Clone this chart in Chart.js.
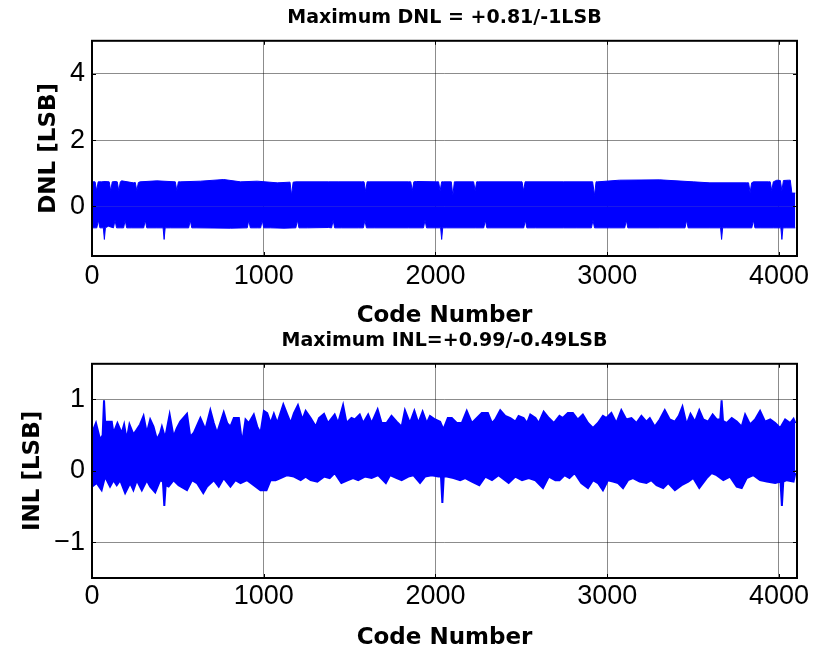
<!DOCTYPE html>
<html>
<head>
<meta charset="utf-8">
<script src="https://cdn.jsdelivr.net/npm/chart.js@4.4.0/dist/chart.umd.min.js"></script>
<style>
  html, body { margin: 0; padding: 0; background: #fff; }
  #wrap { position: relative; width: 825px; height: 649px; }
  canvas { position: absolute; left: 0; }
</style>
</head>
<body>
<div id="wrap">
  <canvas id="chart-dnl" width="825" height="325" style="top:0"></canvas>
  <canvas id="chart-inl" width="825" height="324" style="top:325px"></canvas>
</div>
<script>
// Axis ticks
const CODE_TICKS = [0, 1000, 2000, 3000, 4000];
const DNL_TICKS = [0, 2, 4];
const INL_TICKS = [-1, 0, 1];

// The traces are 4096 codes of dense noise; what reads off the picture is the
// blue band's top and bottom edge, so each series is an edge as [code, LSB].
const DNL_TOP = [
  [0, 0.74], [18, 0.74], [27, 0.47], [36, 0.74], [56, 0.74], [76, 0.75], [100, 0.74], [109, 0.47], [118, 0.74],
  [134, 0.75], [147, 0.74], [156, 0.47], [165, 0.74], [173, 0.77], [241, 0.71], [252, 0.72], [261, 0.47], [270, 0.72],
  [280, 0.74], [378, 0.77], [485, 0.74], [494, 0.47], [503, 0.74], [514, 0.74], [631, 0.76], [767, 0.81], [865, 0.74],
  [962, 0.76], [1079, 0.71], [1153, 0.73], [1162, 0.33], [1171, 0.73], [1186, 0.74], [1378, 0.74], [1433, 0.74],
  [1569, 0.74], [1584, 0.74], [1593, 0.45], [1602, 0.74], [1618, 0.74], [1842, 0.74], [1856, 0.74], [1865, 0.47],
  [1874, 0.74], [1890, 0.75], [2007, 0.74], [2018, 0.74], [2027, 0.47], [2036, 0.74], [2046, 0.74], [2085, 0.74],
  [2092, 0.74], [2101, 0.33], [2110, 0.74], [2118, 0.74], [2212, 0.74], [2222, 0.74], [2231, 0.47], [2240, 0.74],
  [2251, 0.74], [2494, 0.74], [2504, 0.74], [2513, 0.47], [2522, 0.74], [2533, 0.74], [2745, 0.74], [2915, 0.74],
  [2926, 0.33], [2935, 0.74], [2945, 0.74], [3072, 0.79], [3306, 0.80], [3501, 0.74], [3598, 0.71], [3812, 0.71],
  [3823, 0.71], [3832, 0.42], [3841, 0.71], [3851, 0.74], [3939, 0.74], [3949, 0.74], [3958, 0.47], [3967, 0.74],
  [3988, 0.79], [4008, 0.78], [4017, 0.47], [4026, 0.78], [4056, 0.79], [4066, 0.79], [4075, 0.40], [4095, 0.40],
];
const DNL_BOTTOM = [
  [0, -0.65], [28, -0.65], [37, -0.42], [46, -0.65], [66, -0.65], [72, -1.0], [78, -0.65], [95, -0.60],
  [125, -0.65], [134, -0.42], [143, -0.65], [164, -0.65], [184, -0.65], [193, -0.42], [202, -0.65], [232, -0.65],
  [301, -0.65], [310, -0.42], [319, -0.65], [378, -0.65], [414, -0.65], [420, -1.0], [426, -0.65], [456, -0.65],
  [563, -0.65], [572, -0.42], [581, -0.65], [611, -0.65], [806, -0.66], [904, -0.65], [913, -0.42], [922, -0.65],
  [962, -0.65], [982, -0.65], [991, -0.42], [1000, -0.65], [1040, -0.65], [1118, -0.66], [1187, -0.65], [1196, -0.42],
  [1205, -0.65], [1254, -0.65], [1378, -0.64], [1395, -0.65], [1404, -0.42], [1413, -0.65], [1452, -0.65],
  [1550, -0.65], [1580, -0.65], [1589, -0.42], [1598, -0.65], [1647, -0.65], [1842, -0.65], [1930, -0.65],
  [1939, -0.42], [1948, -0.65], [1998, -0.65], [2030, -0.65], [2036, -1.0], [2042, -0.65], [2066, -0.65],
  [2231, -0.65], [2281, -0.65], [2290, -0.42], [2299, -0.65], [2329, -0.65], [2514, -0.65], [2523, -0.42],
  [2532, -0.65], [2582, -0.65], [2745, -0.65], [2819, -0.65], [2908, -0.65], [2917, -0.42], [2926, -0.65],
  [3014, -0.65], [3102, -0.65], [3111, -0.42], [3120, -0.65], [3306, -0.65], [3453, -0.65], [3462, -0.42],
  [3471, -0.65], [3598, -0.65], [3660, -0.65], [3666, -1.0], [3672, -0.65], [3696, -0.65], [3842, -0.65],
  [3851, -0.42], [3860, -0.65], [3890, -0.65], [3968, -0.65], [4011, -0.65], [4017, -1.0], [4023, -0.65],
  [4046, -0.65], [4095, -0.65],
];

const INL_TOP = [
  [0, 0.53], [23, 0.67], [47, 0.44], [62, 0.50], [70, 0.99], [78, 0.60], [86, 0.69], [115, 0.69], [125, 0.53],
  [148, 0.67], [173, 0.53], [187, 0.65], [202, 0.44], [218, 0.65], [241, 0.51], [261, 0.58], [280, 0.65],
  [300, 0.77], [319, 0.53], [339, 0.72], [358, 0.62], [378, 0.44], [397, 0.53], [407, 0.62], [426, 0.46],
  [452, 0.79], [475, 0.48], [494, 0.60], [514, 0.69], [553, 0.80], [572, 0.48], [592, 0.53], [631, 0.74],
  [660, 0.58], [689, 0.85], [709, 0.67], [728, 0.53], [767, 0.82], [787, 0.67], [806, 0.62], [826, 0.74],
  [855, 0.74], [874, 0.39], [894, 0.72], [913, 0.67], [942, 0.79], [962, 0.62], [981, 0.53], [1001, 0.84],
  [1020, 0.81], [1040, 0.67], [1059, 0.80], [1079, 0.67], [1114, 0.93], [1137, 0.79], [1157, 0.67], [1176, 0.81],
  [1199, 0.92], [1225, 0.72], [1244, 0.84], [1273, 0.74], [1303, 0.62], [1322, 0.74], [1351, 0.80], [1374, 0.67],
  [1413, 0.79], [1433, 0.67], [1462, 0.92], [1482, 0.67], [1511, 0.74], [1530, 0.72], [1559, 0.79], [1579, 0.67],
  [1608, 0.79], [1628, 0.67], [1663, 0.86], [1686, 0.67], [1715, 0.67], [1744, 0.77], [1774, 0.69], [1803, 0.62],
  [1822, 0.85], [1851, 0.67], [1877, 0.84], [1900, 0.67], [1925, 0.83], [1949, 0.67], [1968, 0.77], [1998, 0.72],
  [2027, 0.69], [2046, 0.58], [2072, 0.74], [2095, 0.74], [2124, 0.67], [2153, 0.67], [2182, 0.84], [2212, 0.67],
  [2241, 0.74], [2270, 0.81], [2305, 0.81], [2329, 0.67], [2348, 0.72], [2377, 0.85], [2406, 0.77], [2436, 0.74],
  [2465, 0.69], [2484, 0.77], [2513, 0.74], [2533, 0.67], [2552, 0.79], [2582, 0.74], [2601, 0.67], [2630, 0.83],
  [2660, 0.74], [2689, 0.67], [2722, 0.77], [2741, 0.74], [2771, 0.81], [2800, 0.81], [2829, 0.72], [2858, 0.79],
  [2888, 0.67], [2917, 0.60], [2946, 0.67], [2975, 0.77], [2995, 0.74], [3024, 0.81], [3053, 0.67], [3082, 0.85],
  [3111, 0.72], [3141, 0.74], [3170, 0.67], [3199, 0.77], [3228, 0.69], [3248, 0.74], [3277, 0.62], [3306, 0.72],
  [3335, 0.85], [3364, 0.72], [3394, 0.69], [3417, 0.77], [3438, 0.90], [3462, 0.65], [3485, 0.80], [3511, 0.69],
  [3536, 0.85], [3559, 0.72], [3588, 0.69], [3614, 0.79], [3637, 0.72], [3658, 0.72], [3666, 0.99], [3674, 0.70],
  [3696, 0.67], [3725, 0.74], [3754, 0.69], [3783, 0.62], [3803, 0.79], [3832, 0.65], [3861, 0.72], [3890, 0.84],
  [3919, 0.69], [3949, 0.72], [3978, 0.67], [4007, 0.60], [4036, 0.72], [4065, 0.67], [4085, 0.73], [4095, 0.67],
];
const INL_BOTTOM = [
  [0, -0.22], [27, -0.17], [56, -0.27], [76, -0.08], [105, -0.22], [125, -0.13], [144, -0.20], [164, -0.13],
  [193, -0.31], [222, -0.17], [241, -0.27], [261, -0.13], [290, -0.27], [319, -0.13], [339, -0.22], [368, -0.30],
  [397, -0.13], [413, -0.15], [421, -0.49], [429, -0.20], [446, -0.22], [475, -0.13], [504, -0.20], [553, -0.27],
  [582, -0.13], [611, -0.17], [648, -0.31], [670, -0.22], [709, -0.13], [738, -0.22], [767, -0.10], [806, -0.22],
  [835, -0.13], [865, -0.17], [903, -0.13], [942, -0.20], [981, -0.27], [1016, -0.27], [1040, -0.13], [1069, -0.13],
  [1098, -0.10], [1137, -0.06], [1176, -0.08], [1215, -0.13], [1244, -0.08], [1273, -0.13], [1312, -0.15],
  [1351, -0.08], [1384, -0.10], [1413, -0.03], [1452, -0.17], [1491, -0.13], [1520, -0.10], [1550, -0.13],
  [1589, -0.08], [1628, -0.10], [1667, -0.06], [1711, -0.17], [1735, -0.06], [1774, -0.10], [1803, -0.13],
  [1842, -0.08], [1871, -0.06], [1910, -0.17], [1939, -0.08], [1978, -0.06], [2017, -0.08], [2032, -0.08],
  [2040, -0.45], [2048, -0.08], [2066, -0.08], [2105, -0.10], [2144, -0.13], [2173, -0.10], [2212, -0.15],
  [2255, -0.20], [2290, -0.08], [2329, -0.13], [2367, -0.06], [2426, -0.17], [2465, -0.08], [2504, -0.13],
  [2543, -0.10], [2582, -0.13], [2626, -0.24], [2660, -0.08], [2698, -0.13], [2722, -0.13], [2751, -0.06],
  [2780, -0.10], [2810, -0.03], [2849, -0.17], [2888, -0.24], [2917, -0.13], [2946, -0.17], [2975, -0.27],
  [3004, -0.13], [3034, -0.15], [3063, -0.17], [3092, -0.24], [3121, -0.13], [3150, -0.10], [3189, -0.15],
  [3228, -0.17], [3257, -0.13], [3287, -0.20], [3326, -0.24], [3355, -0.17], [3394, -0.27], [3433, -0.20],
  [3472, -0.15], [3501, -0.10], [3536, -0.24], [3579, -0.10], [3608, -0.03], [3637, -0.06], [3676, -0.13],
  [3715, -0.08], [3754, -0.22], [3783, -0.24], [3812, -0.10], [3851, -0.06], [3890, -0.13], [3929, -0.15],
  [3978, -0.17], [4009, -0.15], [4017, -0.49], [4025, -0.15], [4046, -0.13], [4085, -0.15], [4095, -0.03],
];

const BLUE = "#0000ff";
const GRID = "rgba(0,0,0,0.45)";
const BOLD_FONT = "'DejaVu Sans', sans-serif";
const TICK_FONT = "'Liberation Sans', Arial, sans-serif";

// Each edge is filled toward a level inside the band, so the two fills
// together paint the solid core of the trace.
function edge(points, mid, width) {
  return {
    data: points.map(([x, y]) => ({ x, y })),
    borderColor: BLUE,
    backgroundColor: BLUE,
    borderWidth: width,
    pointRadius: 0,
    tension: 0,
    fill: { value: mid },
  };
}

// MATLAB-style box with short inward tick marks.
const framePlugin = {
  id: "frame",
  afterDraw(chart) {
    const { ctx, chartArea: a, scales: { x, y } } = chart;
    ctx.save();
    ctx.strokeStyle = "#000";
    ctx.lineWidth = 1;
    ctx.beginPath();
    for (const t of x.ticks) {
      const px = Math.round(x.getPixelForValue(t.value)) + 0.5;
      ctx.moveTo(px, a.top); ctx.lineTo(px, a.top + 4);
      ctx.moveTo(px, a.bottom); ctx.lineTo(px, a.bottom - 4);
    }
    for (const t of y.ticks) {
      const py = Math.round(y.getPixelForValue(t.value)) + 0.5;
      ctx.moveTo(a.left, py); ctx.lineTo(a.left + 4, py);
      ctx.moveTo(a.right, py); ctx.lineTo(a.right - 4, py);
    }
    ctx.stroke();
    ctx.lineWidth = 2;
    ctx.strokeRect(a.left, a.top, a.right - a.left, a.bottom - a.top);
    ctx.restore();
  },
};

function renderPanel(canvasId, o) {
  new Chart(document.getElementById(canvasId), {
    type: "line",
    data: { datasets: [edge(o.top, o.mid, o.lineW), edge(o.bottom, o.mid, o.lineW)] },
    plugins: [framePlugin],
    options: {
      responsive: false,
      animation: false,
      layout: { padding: { left: 0, right: 28, top: 0, bottom: 0 } },
      plugins: {
        legend: { display: false },
        tooltip: { enabled: false },
        title: {
          display: true,
          fullSize: false,
          text: o.title,
          color: "#000",
          font: { family: BOLD_FONT, size: 19, weight: "bold", lineHeight: 1.2 },
          padding: o.titlePad,
        },
      },
      scales: {
        x: {
          type: "linear",
          min: 0,
          max: 4105,
          afterFit: (s) => { s.height = o.xAxisH; },
          afterBuildTicks: (s) => { s.ticks = CODE_TICKS.map((v) => ({ value: v })); },
          grid: { color: GRID, drawTicks: false },
          border: { display: false },
          ticks: {
            color: "#000",
            padding: o.xTickPad,
            maxRotation: 0,
            font: { family: TICK_FONT, size: 27, lineHeight: 1 },
            callback: (v) => String(v),
          },
          title: {
            display: true,
            text: "Code Number",
            color: "#000",
            font: { family: BOLD_FONT, size: 23, weight: "bold", lineHeight: 0.8 },
            padding: { top: 0, bottom: o.xTitlePad },
          },
        },
        y: {
          min: o.yMin,
          max: o.yMax,
          afterFit: (s) => { s.width = 92; },
          afterBuildTicks: (s) => { s.ticks = o.yTicks.map((v) => ({ value: v })); },
          grid: { color: GRID, drawTicks: false },
          border: { display: false },
          ticks: {
            color: "#000",
            padding: 7,
            font: { family: TICK_FONT, size: 27, lineHeight: 1 },
            callback: (v) => String(v).replace("-", "\u2212"),
          },
          title: {
            display: true,
            text: o.yLabel,
            color: "#000",
            font: { family: BOLD_FONT, size: 23, weight: "bold", lineHeight: 1 },
            padding: { top: o.yTitlePad, bottom: 0 },
          },
        },
      },
    },
  });
}

renderPanel("chart-dnl", {
  title: "Maximum DNL = +0.81/-1LSB",
  yLabel: "DNL [LSB]",
  yMin: -1.5, yMax: 5, yTicks: DNL_TICKS,
  top: DNL_TOP, bottom: DNL_BOTTOM, mid: 0, lineW: 1,
  titlePad: { top: 7, bottom: 11 },
  xAxisH: 69, xTickPad: 7, xTitlePad: 0, yTitlePad: 38,
});

renderPanel("chart-inl", {
  title: "Maximum INL=+0.99/-0.49LSB",
  yLabel: "INL [LSB]",
  yMin: -1.5, yMax: 1.5, yTicks: INL_TICKS,
  top: INL_TOP, bottom: INL_BOTTOM, mid: 0.25, lineW: 2,
  titlePad: { top: 5, bottom: 11 },
  xAxisH: 71, xTickPad: 5, xTitlePad: 2, yTitlePad: 22,
});
</script>
</body>
</html>
